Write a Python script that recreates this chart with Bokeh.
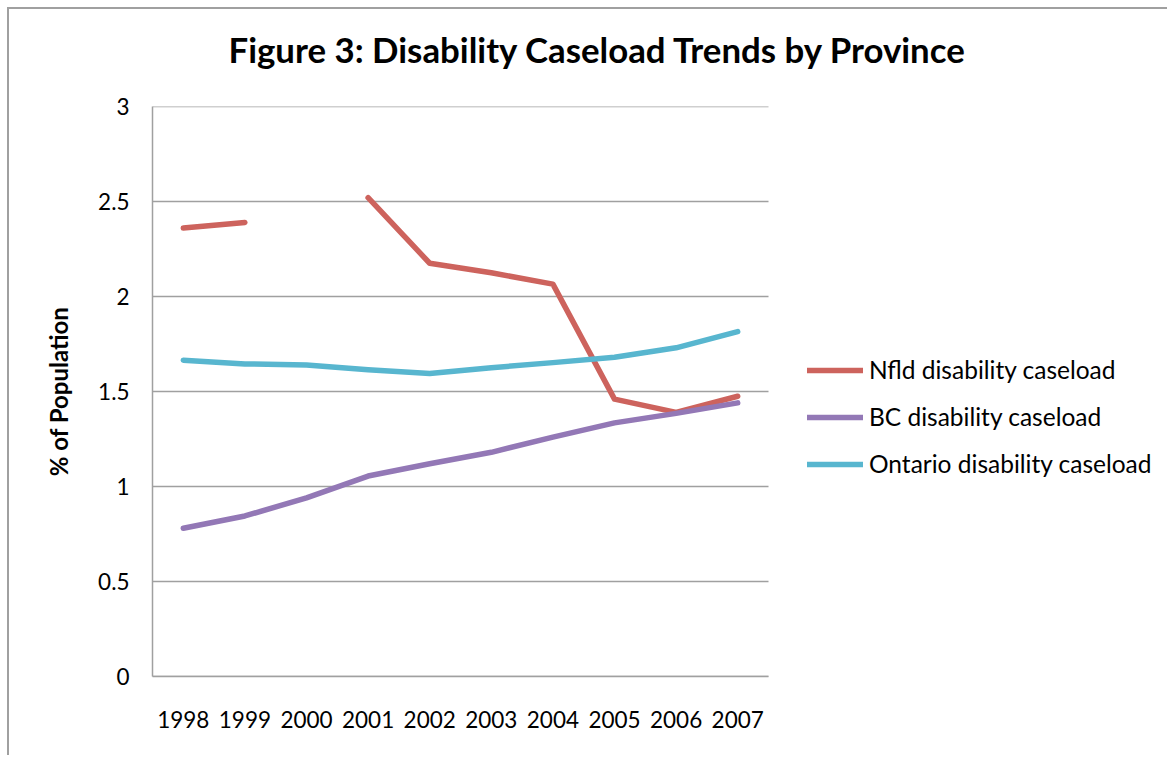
from bokeh.plotting import figure
from bokeh.models import Range1d, FixedTicker, Legend, LegendItem, Title
from bokeh.embed import file_html
from bokeh.resources import INLINE

# ---- data ----
years = ["1998", "1999", "2000", "2001", "2002", "2003", "2004", "2005", "2006", "2007"]
nfld = [2.36, 2.39, float("nan"), 2.52, 2.175, 2.125, 2.065, 1.46, 1.39, 1.475]
bc = [0.78, 0.845, 0.94, 1.055, 1.12, 1.18, 1.26, 1.335, 1.385, 1.44]
ontario = [1.665, 1.645, 1.64, 1.615, 1.595, 1.625, 1.652, 1.68, 1.73, 1.815]
series_names = ["Nfld disability caseload", "BC disability caseload", "Ontario disability caseload"]
y_ticks = [0, 0.5, 1, 1.5, 2, 2.5, 3]
y_tick_labels = ["0", "0.5", "1", "1.5", "2", "2.5", "3"]
title_text = "Figure 3: Disability Caseload Trends by Province"
y_label = "% of Population"

FONT = "Lato"
GRID = "#a0a0a0"
colors = ["#CD635D", "#9378B6", "#58B6CF"]

xs = [int(y) for y in years]
x_lo, x_hi = xs[0] - 0.5, xs[-1] + 0.5
y_lo, y_hi = y_ticks[0], y_ticks[-1]

# frame extends to the right edge so the legend sits inside it
p = figure(
    width=1160, height=748,
    x_range=Range1d(x_lo, x_lo + 1017 / 61.6),
    y_range=Range1d(y_lo, y_hi),
    output_backend="svg", toolbar_location=None,
    min_border_left=143, min_border_right=0,
    min_border_top=97, min_border_bottom=81,
)
p.styles = {"border-left": "2px solid #a0a0a0", "border-top": "2px solid #a0a0a0",
            "margin-left": "7px", "margin-top": "7px"}
p.outline_line_color = None
p.background_fill_color = "white"
p.border_fill_color = "white"
p.xgrid.grid_line_color = None
p.ygrid.grid_line_color = None

# horizontal gridlines limited to the plot area
p.segment(x0=[x_lo] * len(y_ticks), x1=[x_hi] * len(y_ticks), y0=y_ticks, y1=y_ticks,
          line_color=GRID, line_width=1.5)

p.yaxis.ticker = FixedTicker(ticks=y_ticks)
p.yaxis.major_label_overrides = {t: l for t, l in zip(y_ticks, y_tick_labels)}
p.yaxis.bounds = (y_lo, y_hi)
p.xaxis.ticker = FixedTicker(ticks=xs)
p.xaxis.major_label_overrides = {x: y for x, y in zip(xs, years)}
p.xaxis.bounds = (x_lo, x_hi)
for ax in (p.xaxis[0], p.yaxis[0]):
    ax.axis_line_color = GRID
    ax.axis_line_width = 1.5
    ax.major_tick_line_color = None
    ax.minor_tick_line_color = None
    ax.major_label_text_font = FONT
    ax.major_label_text_font_size = "22.5px"
    ax.major_label_text_color = "black"
p.yaxis.major_label_standoff = 17
p.xaxis.major_label_standoff = 28
p.yaxis.axis_label = y_label
p.yaxis.axis_label_text_font = FONT
p.yaxis.axis_label_text_font_style = "bold"
p.yaxis.axis_label_text_font_size = "24px"
p.yaxis.axis_label_text_color = "black"
p.yaxis.axis_label_standoff = 22

renderers = []
for vals, c in zip([nfld, bc, ontario], colors):
    r = p.line(xs, vals, line_color=c, line_width=5.5, line_cap="round", line_join="round")
    renderers.append(r)

legend = Legend(
    items=[LegendItem(label=n, renderers=[r]) for n, r in zip(series_names, renderers)],
    location=(655, 198),
    orientation="vertical",
    padding=0, margin=0, spacing=18,
    glyph_width=56, glyph_height=20, label_height=20, label_standoff=6,
    label_text_font=FONT, label_text_font_size="24.5px", label_text_color="black",
    border_line_color=None, background_fill_alpha=0,
)
p.add_layout(legend, "center")

# spacer between frame and title, then the title itself
p.add_layout(Title(text=" ", text_font_size="1px", standoff=17), "above")
p.add_layout(Title(
    text=title_text, align="left", offset=76, standoff=34,
    text_font=FONT, text_font_size="34.8px", text_font_style="bold", text_color="black",
), "above")

open("out.html", "w").write(file_html(p, INLINE))
